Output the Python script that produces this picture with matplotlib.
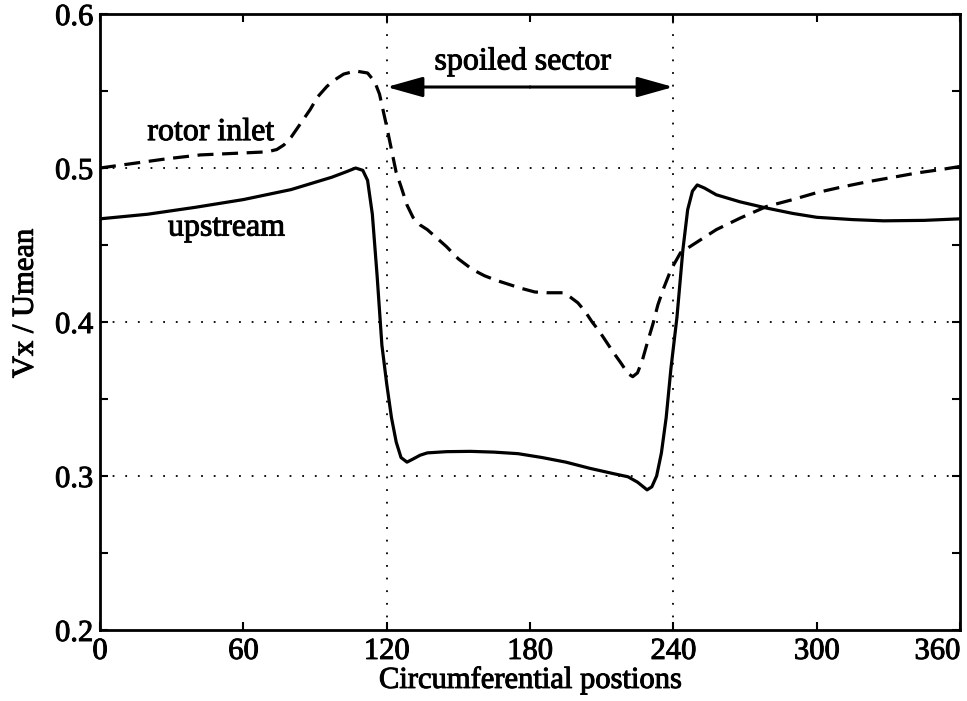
import matplotlib
matplotlib.use("Agg")
import matplotlib.pyplot as plt
import matplotlib.patheffects as pe
from matplotlib.ticker import MultipleLocator

# values
upstream_x = [0, 20, 40, 60, 80, 97, 103, 107, 110, 112, 114, 116, 118, 120, 122, 124, 126,
              128.5, 131, 134, 137, 145, 155, 165, 175, 185, 195, 205, 215, 221, 225, 229,
              231, 233, 235, 237, 239, 241.5, 244, 246, 248, 250, 253, 258, 268, 279, 290,
              300, 315, 328, 345, 360]
upstream_y = [0.467, 0.470, 0.4745, 0.4795, 0.486, 0.494, 0.4975, 0.500, 0.4985, 0.492, 0.470,
              0.430, 0.385, 0.360, 0.338, 0.322, 0.312, 0.309, 0.311, 0.3135, 0.315, 0.3158,
              0.316, 0.3155, 0.3145, 0.312, 0.309, 0.305, 0.3015, 0.2995, 0.296, 0.291, 0.293,
              0.300, 0.315, 0.338, 0.370, 0.403, 0.447, 0.473, 0.485, 0.489, 0.487, 0.4826,
              0.478, 0.474, 0.4705, 0.468, 0.4665, 0.4657, 0.466, 0.467]

inlet_x = [0, 7, 14, 28, 42, 56, 70, 74, 77, 80, 84, 88, 91, 95, 98, 102, 107, 112, 115, 117,
           120, 122, 124, 126, 128.5, 131, 134, 137, 145, 150, 156, 161, 166, 171, 176, 182,
           187, 194, 197, 200, 203, 206, 209, 212, 215, 218, 221, 223, 225, 227, 229, 231.5,
           233.5, 235.7, 239, 243, 248, 253, 258, 268, 279, 290, 300, 310, 321, 332, 342,
           352, 360]
inlet_y = [0.500, 0.5015, 0.503, 0.506, 0.5085, 0.5095, 0.5105, 0.512, 0.515, 0.520, 0.529,
           0.538, 0.546, 0.553, 0.557, 0.561, 0.563, 0.5617, 0.556, 0.548, 0.527, 0.512,
           0.497, 0.488, 0.476, 0.468, 0.463, 0.460, 0.449, 0.441, 0.434, 0.430, 0.427,
           0.4245, 0.422, 0.4195, 0.419, 0.419, 0.416, 0.4125, 0.407, 0.400, 0.394, 0.387,
           0.380, 0.3735, 0.3665, 0.3645, 0.367, 0.375, 0.386, 0.399, 0.411, 0.421, 0.434,
           0.445, 0.450, 0.455, 0.460, 0.4675, 0.475, 0.4795, 0.484, 0.4875, 0.491, 0.494,
           0.4968, 0.499, 0.501]

x_ticks = [0, 60, 120, 180, 240, 300, 360]
y_ticks = [0.2, 0.3, 0.4, 0.5, 0.6]
y_grid = [0.3, 0.4, 0.5]
x_grid = [120, 240]
sector = (120, 240)

plt.rcParams['font.family'] = ['Liberation Serif', 'DejaVu Serif']
# the scanned original has heavy type, thicken glyphs a little
heavy = [pe.withStroke(linewidth=0.7, foreground='black')]

fig = plt.figure(figsize=(9.67, 7.01), dpi=100)
ax = fig.add_axes([0.1034, 0.1013, 0.8894, 0.8787])

dot = (0, (1, 6))
for g in y_grid:
    ax.axhline(g, color='black', linestyle=dot, linewidth=1.3, zorder=1)
for g in x_grid:
    ax.axvline(g, color='black', linestyle=dot, linewidth=1.3, zorder=1)

ax.plot(upstream_x, upstream_y, color='black', linewidth=2.3, solid_capstyle='round')
ax.plot(inlet_x, inlet_y, color='black', linewidth=2.3, dashes=(5, 2.7))

ax.set_xlim(0, 360)
ax.set_ylim(0.2, 0.6)
ax.set_xticks(x_ticks)
ax.set_yticks(y_ticks)
ax.set_yticklabels(["%.1f" % v for v in y_ticks])
ax.yaxis.set_minor_locator(MultipleLocator(0.05))
ax.tick_params(which='both', direction='in', top=True, right=True, width=1.5)
ax.tick_params(which='major', length=6, labelsize=22, pad=5)
ax.tick_params(which='minor', length=6)
for s in ax.spines.values():
    s.set_linewidth(2)

xt = ax.get_xticklabels()
xt[-1].set_horizontalalignment('right')
for t in xt + ax.get_yticklabels():
    t.set_path_effects(heavy)

ax.set_xlabel("Circumferential postions", fontsize=22, labelpad=0, path_effects=heavy)
ax.set_ylabel("Vx / Umean", fontsize=22, path_effects=heavy)
ax.yaxis.set_label_coords(-0.07, 0.53)

# spoiled sector arrow
mid = (sector[0] + sector[1]) / 2
ay = 0.5526
style = '-|>,head_length=1.0,head_width=0.28'
for end in sector:
    ax.annotate("", xy=(end, ay), xytext=(mid, ay),
                arrowprops=dict(arrowstyle=style, facecolor='black', edgecolor='black',
                                linewidth=2.2, mutation_scale=22, shrinkA=0, shrinkB=0))
ax.text(177, 0.569, "spoiled sector", fontsize=23, ha='center', va='center', path_effects=heavy)
ax.text(46.4, 0.523, "rotor inlet", fontsize=23, ha='center', va='center', path_effects=heavy)
ax.text(53, 0.461, "upstream", fontsize=23, ha='center', va='center', path_effects=heavy)

fig.savefig("out.png", dpi=100)
